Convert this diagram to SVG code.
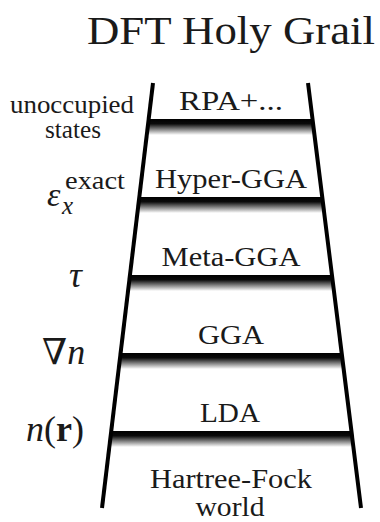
<svg xmlns="http://www.w3.org/2000/svg" width="380" height="522" viewBox="0 0 380 522">
<style>
.t{font-family:"Liberation Serif",Tinos,"Times New Roman",Times,"DejaVu Serif","Noto Serif",serif;fill:#1a1a1a}
.lbl{font-size:28px;text-anchor:middle}
.side{font-size:25px;text-anchor:middle}
.rail{stroke:#000;stroke-width:4;fill:none;stroke-linecap:butt}
</style>
<defs>
<linearGradient id="rg" x1="0" y1="0" x2="0" y2="1">
<stop offset="0" stop-color="#000"/>
<stop offset="0.3" stop-color="#0a0a0a"/>
<stop offset="1" stop-color="#fff"/>
</linearGradient>
</defs>
<rect width="380" height="522" fill="#fff"/>
<g id="rungs">
<polygon points="148.7,119 312.5,119 314.5,135 146.8,135" fill="url(#rg)"/>
<polygon points="139.3,197 322.2,197 324.2,213 137.4,213" fill="url(#rg)"/>
<polygon points="130,275 331.9,275 333.9,291 128,291" fill="url(#rg)"/>
<polygon points="120.6,353 341.7,353 343.7,369 118.7,369" fill="url(#rg)"/>
<polygon points="111.2,431 351.4,431 353.4,447 109.3,447" fill="url(#rg)"/>
</g>
<g id="rails">
<line class="rail" x1="153" y1="83" x2="102" y2="508"/>
<line class="rail" x1="308" y1="83" x2="361" y2="508"/>
</g>
<g class="t">
<g id="title"><text x="231" y="44" font-size="41" text-anchor="middle" textLength="288" lengthAdjust="spacingAndGlyphs">DFT Holy Grail</text></g>
<g id="rung-rpa"><text class="lbl" x="231" y="110" textLength="104" lengthAdjust="spacingAndGlyphs">RPA+...</text></g>
<g id="rung-hyper"><text class="lbl" x="231" y="188" textLength="152" lengthAdjust="spacingAndGlyphs">Hyper-GGA</text></g>
<g id="rung-meta"><text class="lbl" x="231" y="266" textLength="139" lengthAdjust="spacingAndGlyphs">Meta-GGA</text></g>
<g id="rung-gga"><text class="lbl" x="231" y="344" textLength="66" lengthAdjust="spacingAndGlyphs">GGA</text></g>
<g id="rung-lda"><text class="lbl" x="230" y="422" textLength="60" lengthAdjust="spacingAndGlyphs">LDA</text></g>
<g id="hartree-fock"><text class="lbl" x="231" y="488" textLength="162" lengthAdjust="spacingAndGlyphs">Hartree-Fock</text><text class="lbl" x="230" y="516" textLength="69" lengthAdjust="spacingAndGlyphs">world</text></g>
<g id="lab-unocc"><text class="side" x="72" y="113" textLength="124" lengthAdjust="spacingAndGlyphs">unoccupied</text><text class="side" x="73" y="138" textLength="56" lengthAdjust="spacingAndGlyphs">states</text></g>
<g id="lab-eps"><text x="47" y="206" font-size="34" font-style="italic">ε</text><text x="65" y="189" font-size="25" textLength="60" lengthAdjust="spacingAndGlyphs">exact</text><text x="62" y="214" font-size="25" font-style="italic">x</text></g>
<g id="lab-tau"><text x="69" y="287" font-size="36" font-style="italic">τ</text></g>
<g id="lab-grad"><text x="42" y="364" font-size="36">∇<tspan font-style="italic">n</tspan></text></g>
<g id="lab-n"><text x="26" y="441" font-size="36"><tspan font-style="italic">n</tspan>(<tspan font-weight="bold">r</tspan>)</text></g>
</g>
</svg>
